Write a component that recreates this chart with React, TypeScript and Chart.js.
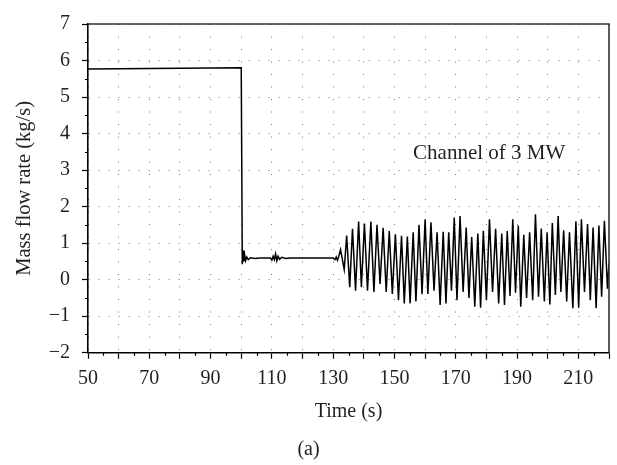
import React, { useEffect, useRef } from "react";
import { Chart, registerables } from "chart.js";

Chart.register(...registerables);

// Time (s)
const timeS: number[] = [
  50, 100, 100.35, 100.6, 100.85, 101.1, 101.4, 101.8, 102.3, 103.0, 104.5, 106.0, 109.5,
  110.0, 110.4, 110.8, 111.2, 111.6, 112.0, 112.5, 113.2, 114.5, 116.0, 130.0,
  130.6, 131.0, 131.4, 131.8, 132.4, 133.6,
  134.4, 135.4, 136.3, 137.3, 138.3, 139.2, 140.2, 141.2, 142.3, 143.3,
  144.3, 145.3, 146.3, 147.3, 148.3, 149.3, 150.3, 151.3, 152.3, 153.2,
  154.2, 155.1, 156.1, 157.0, 158.0, 159.0, 160.0, 160.9, 161.9, 162.9,
  163.9, 164.9, 165.9, 166.8, 167.7, 168.6, 169.5, 170.4, 171.4, 172.4,
  173.4, 174.3, 175.2, 176.2, 177.2, 178.1, 179.0, 180.0, 181.0, 182.0,
  183.0, 184.0, 185.0, 185.9, 186.8, 187.7, 188.6, 189.5, 190.4, 191.2,
  192.2, 193.1, 194.1, 195.1, 196.0, 197.0, 197.9, 198.9, 199.8, 200.7,
  201.5, 202.5, 203.4, 204.3, 205.2, 206.2, 207.1, 208.2, 209.2, 210.1,
  211.0, 212.0, 213.0, 213.9, 214.8, 215.8, 216.7, 217.6, 218.5, 219.5, 220.0,
];

// Mass flow rate (kg/s)
const flowKgS: number[] = [
  5.77, 5.8, 0.42, 0.8, 0.5, 0.68, 0.52, 0.62, 0.55, 0.6, 0.58, 0.59, 0.59,
  0.54, 0.64, 0.55, 0.7, 0.52, 0.64, 0.56, 0.61, 0.58, 0.59, 0.59,
  0.55, 0.62, 0.53, 0.63, 0.82, 0.28,
  1.21, -0.21, 1.39, -0.3, 1.59, -0.21, 1.54, -0.3, 1.59, -0.34,
  1.5, -0.12, 1.42, -0.34, 1.33, -0.39, 1.24, -0.56, 1.2, -0.65,
  1.18, -0.65, 1.3, -0.6, 1.5, -0.4, 1.65, -0.39, 1.57, -0.3,
  1.3, -0.69, 1.31, -0.65, 1.3, -0.3, 1.7, -0.56, 1.74, -0.34,
  1.43, -0.5, 1.17, -0.74, 1.26, -0.77, 1.34, -0.56, 1.65, -0.34,
  1.39, -0.65, 1.26, -0.69, 1.33, -0.45, 1.65, -0.36, 1.48, -0.74,
  1.23, -0.5, 1.3, -0.56, 1.79, -0.47, 1.4, -0.6, 1.3, -0.68,
  1.55, -0.42, 1.74, -0.34, 1.35, -0.6, 1.3, -0.78, 1.6, -0.77,
  1.65, -0.34, 1.52, -0.56, 1.43, -0.78, 1.48, -0.47, 1.61, -0.25, 0.45,
];

const xLabelTicks: number[] = [50, 70, 90, 110, 130, 150, 170, 190, 210];
const yLabelTicks: number[] = [-2, -1, 0, 1, 2, 3, 4, 5, 6, 7];

const xTitle = "Time (s)";
const yTitle = "Mass flow rate (kg/s)";
const annotationText = "Channel of 3 MW";
const annotationAt: number[] = [180.9, 3.46];
const captionText = "(a)";

const FONT = "'Liberation Serif', 'Times New Roman', serif";
const TEXT = "#231f20";

const decorPlugin = {
  id: "decor",
  afterDatasetsDraw(chart: any) {
    const { ctx, chartArea: a, scales } = chart;
    const x = scales.x;
    const y = scales.y;
    ctx.save();
    // top and right frame
    ctx.strokeStyle = "#333";
    ctx.lineWidth = 1.6;
    ctx.beginPath();
    ctx.moveTo(a.left, a.top);
    ctx.lineTo(a.right, a.top);
    ctx.lineTo(a.right, a.bottom);
    ctx.stroke();
    // minor ticks
    ctx.strokeStyle = "#000";
    ctx.lineWidth = 1.2;
    ctx.beginPath();
    for (let v = x.min + 5; v < x.max; v += 10) {
      const px = Math.round(x.getPixelForValue(v)) + 0.5;
      ctx.moveTo(px, a.bottom);
      ctx.lineTo(px, a.bottom + 3);
    }
    for (let v = y.min + 0.5; v < y.max; v += 1) {
      const py = Math.round(y.getPixelForValue(v)) + 0.5;
      ctx.moveTo(a.left, py);
      ctx.lineTo(a.left - 3, py);
    }
    ctx.stroke();
    // texts
    ctx.fillStyle = TEXT;
    ctx.font = `21px ${FONT}`;
    ctx.textAlign = "center";
    ctx.textBaseline = "middle";
    ctx.fillText(
      annotationText,
      x.getPixelForValue(annotationAt[0]),
      y.getPixelForValue(annotationAt[1])
    );
    ctx.font = `20px ${FONT}`;
    ctx.fillText(captionText, chart.width / 2, 450);
    ctx.restore();
  },
};

export default function App() {
  const ref = useRef<HTMLCanvasElement | null>(null);

  useEffect(() => {
    if (!ref.current) return;
    const points = timeS.map((t, i) => ({ x: t, y: flowKgS[i] }));
    const chart = new Chart(ref.current, {
      type: "line",
      data: {
        datasets: [
          {
            data: points,
            borderColor: "#000",
            borderWidth: 1.5,
            pointRadius: 0,
            tension: 0,
            fill: false,
          },
        ],
      },
      plugins: [decorPlugin],
      options: {
        animation: false,
        responsive: true,
        maintainAspectRatio: false,
        parsing: false as any,
        normalized: true,
        layout: { padding: { left: 0, right: 6.3, top: 14, bottom: 0 } },
        plugins: {
          legend: { display: false },
          tooltip: { enabled: false },
        },
        scales: {
          x: {
            type: "linear",
            min: 50,
            max: 220,
            afterFit: (s: any) => {
              s.height = 112.3;
            },
            ticks: {
              stepSize: 10,
              autoSkip: false,
              maxRotation: 0,
              padding: 8,
              color: TEXT,
              font: { family: FONT, size: 20 },
              callback: (v: any) => (xLabelTicks.includes(Number(v)) ? String(v) : ""),
            },
            grid: {
              color: "#777",
              lineWidth: 1,
              drawTicks: true,
              tickLength: 6,
              tickColor: "#000",
              tickWidth: 1.2,
            },
            border: { display: true, color: "#000", width: 1.6, dash: [1, 11.5] },
            title: {
              display: true,
              text: xTitle,
              color: TEXT,
              font: { family: FONT, size: 20 },
              padding: { top: 0, bottom: 41 },
            },
          },
          y: {
            type: "linear",
            min: -2,
            max: 7,
            afterFit: (s: any) => {
              s.width = 88;
            },
            ticks: {
              stepSize: 1,
              padding: 12,
              color: TEXT,
              font: { family: FONT, size: 20 },
              callback: (v: any) =>
                yLabelTicks.includes(Number(v)) ? String(v).replace("-", "\u2212") : "",
            },
            grid: {
              color: "#777",
              lineWidth: 1,
              drawTicks: true,
              tickLength: 6,
              tickColor: "#000",
              tickWidth: 1.2,
            },
            border: { display: true, color: "#000", width: 1.6, dash: [1, 9] },
            title: {
              display: true,
              text: yTitle,
              color: TEXT,
              font: { family: FONT, size: 20.5 },
              padding: { top: 12, bottom: 0 },
            },
          },
        },
      },
    });
    return () => chart.destroy();
  }, []);

  return (
    <div
      style={{
        position: "fixed",
        left: 0,
        top: 0,
        width: 617,
        height: 465,
        background: "#fff",
      }}
    >
      <canvas ref={ref} />
    </div>
  );
}
